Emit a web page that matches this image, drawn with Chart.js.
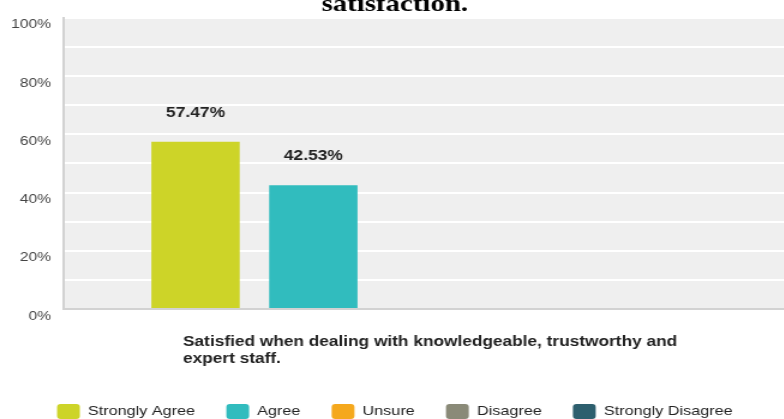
<!DOCTYPE html>
<html>
<head>
<meta charset="utf-8">
<script src="https://cdn.jsdelivr.net/npm/chart.js@4/dist/chart.umd.min.js"></script>
<style>
  body { margin: 0; overflow: hidden; background: #fff; }
  #wrap { width: 784px; height: 419px; overflow: hidden; position: relative; }
  /* the source picture is stretched sideways, so is this one */
  #stretch { position: absolute; left: 0; top: 0; transform: scaleX(1.2); transform-origin: 0 0; }
  #chart { position: relative; left: -8px; }
</style>
</head>
<body>
<div id="wrap">
  <div id="stretch">
    <canvas id="chart" width="674" height="429"></canvas>
  </div>
</div>
<script>
// chart data
const titleText = 'satisfaction.';
const categories = [['Satisfied when dealing with knowledgeable, trustworthy and', 'expert staff.']];
const seriesNames = ['Strongly Agree', 'Agree', 'Unsure', 'Disagree', 'Strongly Disagree'];
const seriesValues = [[57.47], [42.53], [0], [0], [0]];
const yTickValues = [0, 20, 40, 60, 80, 100];
const yTickLabels = ['0%', '20%', '40%', '60%', '80%', '100%'];

const barColors = ['#cdd428', '#31bcbe', '#f5a81d', '#8a8a78', '#2d5f6e'];

Chart.defaults.font.family = '"Liberation Sans", Arial, sans-serif';

const chartEl = document.getElementById('chart');

// grey plot background
const plotBg = {
  id: 'plotBg',
  beforeDraw(chart) {
    const {ctx, chartArea} = chart;
    ctx.save();
    ctx.fillStyle = '#efefef';
    ctx.fillRect(chartArea.left, chartArea.top, chartArea.right - chartArea.left, chartArea.bottom - chartArea.top);
    ctx.restore();
  }
};

// percent labels over the bars
const barLabels = {
  id: 'barLabels',
  afterDatasetsDraw(chart) {
    const ctx = chart.ctx;
    ctx.save();
    ctx.font = 'bold 14.5px "Liberation Sans", Arial, sans-serif';
    ctx.fillStyle = '#222';
    ctx.textAlign = 'center';
    ctx.textBaseline = 'middle';
    chart.data.datasets.forEach((ds, i) => {
      chart.getDatasetMeta(i).data.forEach((bar, j) => {
        const v = ds.data[j];
        if (v > 0) ctx.fillText(v.toFixed(2) + '%', bar.x, bar.y - 29);
      });
    });
    ctx.restore();
  }
};

new Chart(chartEl, {
  type: 'bar',
  data: {
    labels: categories,
    datasets: seriesNames.map((name, i) => ({
      label: name,
      data: seriesValues[i],
      backgroundColor: barColors[i],
      borderWidth: 0,
      categoryPercentage: 0.8,
      barPercentage: 0.75
    }))
  },
  options: {
    responsive: false,
    animation: false,
    layout: { padding: 0 },
    plugins: {
      title: {
        display: true,
        text: titleText,
        color: '#000',
        font: { family: '"Liberation Serif", "Times New Roman", serif', size: 24, weight: 'bold', lineHeight: 0.075 },
        padding: { top: 0, bottom: 12 }
      },
      legend: {
        display: true,
        position: 'bottom',
        labels: {
          boxWidth: 19,
          boxHeight: 15,
          padding: 26,
          useBorderRadius: true,
          borderRadius: 3,
          color: '#222',
          font: { size: 13.5 }
        }
      },
      tooltip: { enabled: false }
    },
    scales: {
      x: {
        grid: { display: false },
        border: { display: true, color: '#d2d2d2', width: 2 },
        ticks: {
          align: 'start',
          labelOffset: -206.75,
          padding: 16,
          maxRotation: 0,
          color: '#222',
          font: { size: 14.4, weight: 'bold', lineHeight: 1.2 }
        },
        afterFit: s => {
          s.height = 69;
          s.paddingLeft = 0;
          s.paddingRight = 0;
        }
      },
      y: {
        min: 0,
        max: 100,
        grid: {
          color: '#ffffff',
          lineWidth: 2,
          drawTicks: false
        },
        border: { display: true, color: '#d2d2d2', width: 2 },
        ticks: {
          stepSize: 10,
          padding: 10,
          labelOffset: 7,
          color: '#444',
          font: { size: 13 },
          callback: v => {
            const k = yTickValues.indexOf(v);
            return k >= 0 ? yTickLabels[k] : '';
          }
        },
        afterFit: s => { s.width = 60.5; }
      }
    }
  },
  plugins: [plotBg, barLabels]
});
</script>
</body>
</html>
